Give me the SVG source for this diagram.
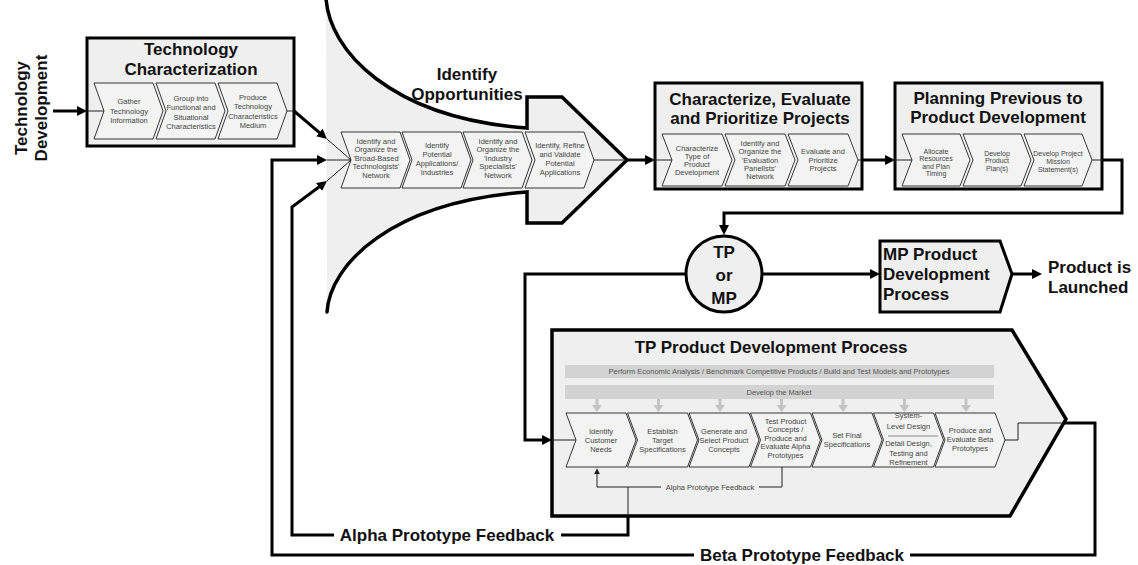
<svg xmlns="http://www.w3.org/2000/svg" width="1138" height="565" viewBox="0 0 1138 565">
<style>
.box{fill:#efefef;stroke:#000;stroke-width:3}
.chev{fill:#f3f3f3;stroke:#222;stroke-width:0.9}
.ct{font-family:"Liberation Sans",Arial,sans-serif;font-size:7.5px;fill:#444;text-anchor:middle}
.bt{font-family:"Liberation Sans",Arial,sans-serif;font-size:7.5px;fill:#555;text-anchor:middle}
.title{font-family:"Liberation Sans",Arial,sans-serif;font-size:17px;font-weight:bold;fill:#111;text-anchor:middle}
.lt{font-family:"Liberation Sans",Arial,sans-serif;font-size:17px;font-weight:bold;fill:#111}
.thick{fill:none;stroke:#000;stroke-width:3}
.thin{fill:none;stroke:#222;stroke-width:1}
.bar{fill:#d2d2d2}
.garrow{fill:#c4c4c4}
</style>
<defs>
<marker id="ah" viewBox="0 0 10 10" refX="2" refY="5" markerWidth="10" markerHeight="10" markerUnits="userSpaceOnUse" orient="auto"><path d="M0,0 L10,5 L0,10 z" fill="#000"/></marker>
<marker id="sa" viewBox="0 0 10 10" refX="2" refY="5" markerWidth="6" markerHeight="6" markerUnits="userSpaceOnUse" orient="auto"><path d="M0,0 L10,5 L0,10 z" fill="#222"/></marker>
</defs>
<rect width="1138" height="565" fill="#fff"/>

<g id="tech-dev">
<text class="title" transform="translate(27,108) rotate(-90)">Technology</text>
<text class="title" transform="translate(47,108) rotate(-90)">Development</text>
</g>

<g id="identify-opps">
<path d="M326,-2 C329,50 390,118 527,128 V97 H562 L627,160 L562,223 H527 V192 C390,202 330,265 327,312 Z" fill="#efefef"/>
<path d="M326,-2 C329,50 390,118 527,128 V97 H562 L627,160 L562,223 H527 V192 C390,202 330,265 327,312" fill="none" stroke="#000" stroke-width="3.5" stroke-linecap="round"/>
<text class="title" x="467" y="80">Identify</text>
<text class="title" x="467" y="100">Opportunities</text>
<polygon class="chev" points="341,132 400,132 410,160 400,188 341,188 351,160"/>
<polygon class="chev" points="402,132 461,132 471,160 461,188 402,188 412,160"/>
<polygon class="chev" points="463,132 522,132 532,160 522,188 463,188 473,160"/>
<polygon class="chev" points="525,132 584,132 594,160 584,188 525,188 535,160"/>
<text class="ct" x="376"><tspan x="376" y="143.5">Identify and</tspan><tspan x="376" y="152">Organize the</tspan><tspan x="376" y="160.5">'Broad-Based</tspan><tspan x="376" y="169">Technologists'</tspan><tspan x="376" y="177.5">Network</tspan></text>
<text class="ct" x="437"><tspan x="437" y="147.5">Identify</tspan><tspan x="437" y="156.5">Potential</tspan><tspan x="437" y="165.5">Applications/</tspan><tspan x="437" y="174.5">Industries</tspan></text>
<text class="ct" x="498"><tspan x="498" y="143.5">Identify and</tspan><tspan x="498" y="152">Organize the</tspan><tspan x="498" y="160.5">'Industry</tspan><tspan x="498" y="169">Specialists'</tspan><tspan x="498" y="177.5">Network</tspan></text>
<text class="ct" x="560"><tspan x="560" y="147.5">Identify, Refine</tspan><tspan x="560" y="156.5">and Validate</tspan><tspan x="560" y="165.5">Potential</tspan><tspan x="560" y="174.5">Applications</tspan></text>
</g>

<g id="tech-char">
<rect class="box" x="87" y="38" width="207" height="108"/>
<text class="title" x="191" y="55">Technology</text>
<text class="title" x="191" y="75">Characterization</text>
<polygon class="chev" points="94,83 153,83 163,111 153,139 94,139 104,111"/>
<polygon class="chev" points="156,83 215,83 225,111 215,139 156,139 166,111"/>
<polygon class="chev" points="218,83 277,83 287,111 277,139 218,139 228,111"/>
<text class="ct"><tspan x="129" y="104">Gather</tspan><tspan x="129" y="113.5">Technology</tspan><tspan x="129" y="123">Information</tspan></text>
<text class="ct"><tspan x="191" y="100.5">Group into</tspan><tspan x="191" y="110">Functional and</tspan><tspan x="191" y="119.5">Situational</tspan><tspan x="191" y="129">Characteristics</tspan></text>
<text class="ct"><tspan x="253" y="99.5">Produce</tspan><tspan x="253" y="109">Technology</tspan><tspan x="253" y="118.5">Characteristics</tspan><tspan x="253" y="128">Medium</tspan></text>
</g>

<g id="char-eval">
<rect class="box" x="655" y="83" width="207" height="106"/>
<text class="title" x="760" y="105">Characterize, Evaluate</text>
<text class="title" x="760" y="124">and Prioritize Projects</text>
<polygon class="chev" points="662,134 722,134 732,160 722,186 662,186 672,160"/>
<polygon class="chev" points="725,134 785,134 795,160 785,186 725,186 735,160"/>
<polygon class="chev" points="788,134 848,134 858,160 848,186 788,186 798,160"/>
<text class="ct"><tspan x="697" y="150.5">Characterize</tspan><tspan x="697" y="158.5">Type of</tspan><tspan x="697" y="166.5">Product</tspan><tspan x="697" y="174.5">Development</tspan></text>
<text class="ct"><tspan x="760" y="146">Identify and</tspan><tspan x="760" y="154.3">Organize the</tspan><tspan x="760" y="162.6">'Evaluation</tspan><tspan x="760" y="170.9">Panelists'</tspan><tspan x="760" y="179.2">Network</tspan></text>
<text class="ct"><tspan x="823" y="154">Evaluate and</tspan><tspan x="823" y="162.5">Prioritize</tspan><tspan x="823" y="171">Projects</tspan></text>
</g>

<g id="planning">
<rect class="box" x="895" y="83" width="207" height="106"/>
<text class="title" x="998" y="104">Planning Previous to</text>
<text class="title" x="998" y="123">Product Development</text>
<polygon class="chev" points="902,134 960,134 970,160 960,186 902,186 912,160"/>
<polygon class="chev" points="963,134 1021,134 1031,160 1021,186 963,186 973,160"/>
<polygon class="chev" points="1024,134 1082,134 1092,160 1082,186 1024,186 1034,160"/>
<text class="ct" style="font-size:7px"><tspan x="936" y="153.5">Allocate</tspan><tspan x="936" y="161">Resources</tspan><tspan x="936" y="168.5">and Plan</tspan><tspan x="936" y="176">Timing</tspan></text>
<text class="ct" style="font-size:7px"><tspan x="997" y="155.5">Develop</tspan><tspan x="997" y="163">Product</tspan><tspan x="997" y="170.5">Plan(s)</tspan></text>
<text class="ct" style="font-size:7px"><tspan x="1058" y="155.5">Develop Project</tspan><tspan x="1058" y="163.5">Mission</tspan><tspan x="1058" y="171.5">Statement(s)</tspan></text>
</g>

<g id="tp-or-mp">
<circle class="box" cx="724" cy="274" r="38"/>
<text class="title" x="724" y="258">TP</text>
<text class="title" x="724" y="281">or</text>
<text class="title" x="724" y="304">MP</text>
</g>

<g id="mp-process">
<polygon class="box" points="880,241 1000,241 1012,274 1000,312 880,312"/>
<text class="lt" x="883" y="260">MP Product</text>
<text class="lt" x="883" y="280">Development</text>
<text class="lt" x="883" y="300">Process</text>
</g>

<g id="product-launched">
<text class="lt" x="1048" y="273">Product is</text>
<text class="lt" x="1048" y="293">Launched</text>
</g>

<g id="tp-process">
<polygon class="box" points="552,330 1012,330 1066,419 1010,516 552,516" style="stroke-width:3.5"/>
<text class="title" x="771" y="353">TP Product Development Process</text>
<rect class="bar" x="565" y="365" width="429" height="13"/>
<text class="bt" x="779" y="374">Perform Economic Analysis / Benchmark Competitive Products / Build and Test Models and Prototypes</text>
<rect class="bar" x="565" y="385" width="429" height="14"/>
<text class="bt" x="779" y="394.5">Develop the Market</text>
<g class="garrow">
<path d="M595.5,399 h3 v6 h3.5 l-5,7 l-5,-7 h3.5z"/>
<path d="M657,399 h3 v6 h3.5 l-5,7 l-5,-7 h3.5z"/>
<path d="M718.5,399 h3 v6 h3.5 l-5,7 l-5,-7 h3.5z"/>
<path d="M780,399 h3 v6 h3.5 l-5,7 l-5,-7 h3.5z"/>
<path d="M841.5,399 h3 v6 h3.5 l-5,7 l-5,-7 h3.5z"/>
<path d="M903,399 h3 v6 h3.5 l-5,7 l-5,-7 h3.5z"/>
<path d="M964.5,399 h3 v6 h3.5 l-5,7 l-5,-7 h3.5z"/>
</g>
<polygon class="chev" points="566,413 626,413 636,440 626,467 566,467 576,440"/>
<polygon class="chev" points="627.5,413 687.5,413 697.5,440 687.5,467 627.5,467 637.5,440"/>
<polygon class="chev" points="689,413 749,413 759,440 749,467 689,467 699,440"/>
<polygon class="chev" points="750.5,413 810.5,413 820.5,440 810.5,467 750.5,467 760.5,440"/>
<polygon class="chev" points="812,413 872,413 882,440 872,467 812,467 822,440"/>
<polygon class="chev" points="873.5,413 933.5,413 943.5,440 933.5,467 873.5,467 883.5,440"/>
<polygon class="chev" points="935,413 995,413 1005,440 995,467 935,467 945,440"/>
<text class="ct"><tspan x="601" y="433.5">Identify</tspan><tspan x="601" y="442.5">Customer</tspan><tspan x="601" y="451.5">Needs</tspan></text>
<text class="ct"><tspan x="662.5" y="433.5">Establish</tspan><tspan x="662.5" y="442.5">Target</tspan><tspan x="662.5" y="451.5">Specifications</tspan></text>
<text class="ct"><tspan x="724" y="433.5">Generate and</tspan><tspan x="724" y="442.5">Select Product</tspan><tspan x="724" y="451.5">Concepts</tspan></text>
<text class="ct"><tspan x="785.5" y="423.5">Test Product</tspan><tspan x="785.5" y="432">Concepts /</tspan><tspan x="785.5" y="440.5">Produce and</tspan><tspan x="785.5" y="449">Evaluate Alpha</tspan><tspan x="785.5" y="457.5">Prototypes</tspan></text>
<text class="ct"><tspan x="847" y="437.5">Set Final</tspan><tspan x="847" y="446.5">Specifications</tspan></text>
<text class="ct"><tspan x="908.5" y="417.5">System-</tspan><tspan x="908.5" y="428.5">Level Design</tspan><tspan x="908.5" y="446">Detail Design,</tspan><tspan x="908.5" y="455.5">Testing and</tspan><tspan x="908.5" y="464.5">Refinement</tspan></text>
<line x1="888" y1="436" x2="938" y2="436" stroke="#444" stroke-width="0.6"/>
<text class="ct"><tspan x="970" y="432.5">Produce and</tspan><tspan x="970" y="441.5">Evaluate Beta</tspan><tspan x="970" y="450.5">Prototypes</tspan></text>
<text class="ct" x="710" y="490">Alpha Prototype Feedback</text>
</g>

<g id="connectors">
<path class="thick" d="M53,111 H79" marker-end="url(#ah)"/>
<path class="thin" d="M87,111 H104"/>
<path class="thin" d="M287,111 H294"/>
<path class="thick" d="M294,111 L320.9,133.8" marker-end="url(#ah)"/>
<path class="thin" d="M327,139 L351,160 M327,160 H351 M327,181 L351,160"/>
<path class="thin" d="M594,160 H627"/>
<path class="thick" d="M627,160 H647" marker-end="url(#ah)"/>
<path class="thin" d="M655,160 H672"/>
<path class="thin" d="M858,160 H862"/>
<path class="thick" d="M862,160 H887" marker-end="url(#ah)"/>
<path class="thin" d="M895,160 H912"/>
<path class="thin" d="M1092,160 H1102"/>
<path class="thick" d="M1102,160 H1122 V213 H724 V227" marker-end="url(#ah)"/>
<path class="thick" d="M762,274 H872" marker-end="url(#ah)"/>
<path class="thick" d="M1012,274 H1034" marker-end="url(#ah)"/>
<path class="thick" d="M686,274 H525 V440 H544" marker-end="url(#ah)"/>
<path class="thin" d="M552,440 H576"/>
<path class="thin" d="M782,467 V487 H759 M661,487 H597 V473" marker-end="url(#sa)"/>
<path class="thin" d="M628,487 V517"/>
<path class="thin" d="M1005,440 H1018 V423 H1063"/>
<path class="thick" d="M628,517 V535 H292 V207 L320.6,185.8" marker-end="url(#ah)"/>
<path class="thick" d="M1063,423 H1095 V555 H272 V160 H319" marker-end="url(#ah)"/>
<rect x="334" y="526" width="227" height="18" fill="#fff"/>
<text class="title" x="447" y="541">Alpha Prototype Feedback</text>
<rect x="694" y="546" width="216" height="18" fill="#fff"/>
<text class="title" x="802" y="561">Beta Prototype Feedback</text>
</g>
</svg>
